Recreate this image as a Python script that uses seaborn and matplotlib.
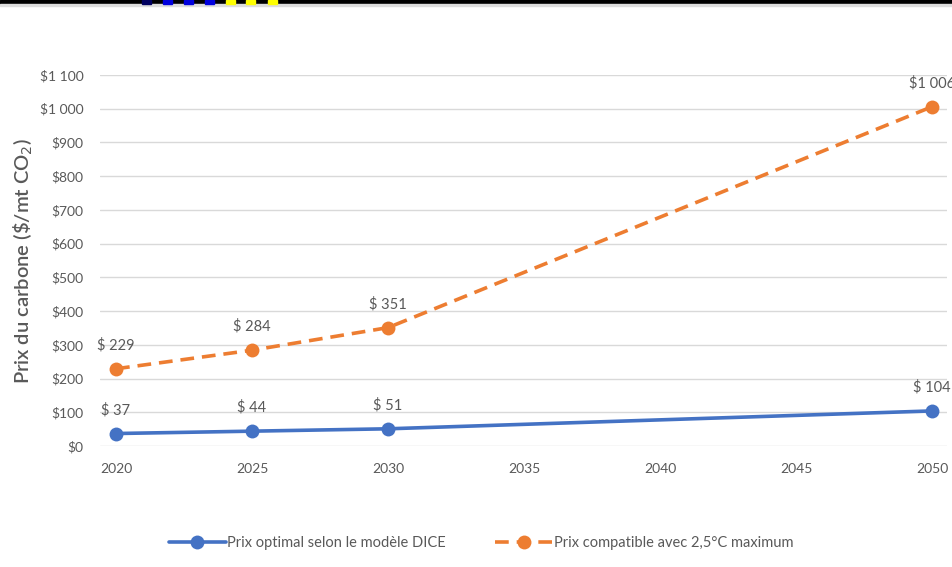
import numpy as np
import pandas as pd
import seaborn as sns
import matplotlib.pyplot as plt
from matplotlib.patches import Rectangle

sns.set_style("white")
plt.rcParams['font.family'] = ['Lato', 'DejaVu Sans']

# données
annees = [2020, 2025, 2030, 2050]
prix_dice = [37, 44, 51, 104]
prix_25c = [229, 284, 351, 1006]
etiq_dice = ["$ 37", "$ 44", "$ 51", "$ 104"]
etiq_25c = ["$ 229", "$ 284", "$ 351", "$1 006"]
xticks = [2020, 2025, 2030, 2035, 2040, 2045, 2050]
yticks = list(range(0, 1101, 100))
ylabels = ["$0", "$100", "$200", "$300", "$400", "$500", "$600", "$700",
           "$800", "$900", "$1 000", "$1 100"]
nom_dice = "Prix optimal selon le modèle DICE"
nom_25c = "Prix compatible avec 2,5°C maximum"

df = pd.DataFrame({"annee": annees * 2,
                   "prix": prix_dice + prix_25c,
                   "serie": [nom_dice] * 4 + [nom_25c] * 4})

gris = "#595959"
bleu = "#4472C4"
orange = "#ED7D31"

fig = plt.figure(figsize=(9.52, 5.67), dpi=100)
ax = fig.add_axes([100/952, 1 - 446/567, 847/952, 371/567])

sns.lineplot(data=df, x="annee", y="prix", hue="serie", style="serie",
             palette={nom_dice: bleu, nom_25c: orange},
             dashes={nom_dice: "", nom_25c: (3.8, 2.2)},
             markers={nom_dice: "o", nom_25c: "o"},
             markersize=10, markeredgewidth=0, linewidth=2.6, ax=ax,
             clip_on=False, zorder=3)

ax.set_xlim(2019.41, 2050.55)
ax.set_ylim(0, 1100)
ax.set_xticks(xticks)
ax.set_yticks(yticks)
ax.set_yticklabels(ylabels)
ax.tick_params(axis="both", length=0, colors=gris, labelsize=10)
ax.tick_params(axis="x", pad=12)
ax.tick_params(axis="y", pad=12)
ax.grid(axis="y", color="#D9D9D9", linewidth=1)
ax.set_axisbelow(True)
for s in ax.spines.values():
    s.set_visible(False)
ax.set_xlabel("")
ax.set_ylabel("Prix du carbone (\\$/mt CO$_2$)", fontsize=14.5, color=gris,
              fontweight="semibold", labelpad=3)

# étiquettes de données
for x, y, t in zip(annees, prix_dice, etiq_dice):
    ax.annotate(t, (x, y), xytext=(0, 14), textcoords="offset points",
                ha="center", fontsize=10.5, color=gris, annotation_clip=False)
for x, y, t in zip(annees, prix_25c, etiq_25c):
    ax.annotate(t, (x, y), xytext=(0, 14), textcoords="offset points",
                ha="center", fontsize=10.5, color=gris, annotation_clip=False)

h, l = ax.get_legend_handles_labels()
ax.legend(h, l, loc="center", bbox_to_anchor=(481/952, 1 - 543/567),
          bbox_transform=fig.transFigure, ncol=2, frameon=False,
          fontsize=10.5, labelcolor=gris, handlelength=3.9, columnspacing=3.4,
          handletextpad=0.1)

# bandeau noir en haut
fig.patches.append(Rectangle((0, 1 - 4/567), 1, 4/567, transform=fig.transFigure,
                             color="black", zorder=10))
fig.patches.append(Rectangle((0, 1 - 6/567), 1, 2/567, transform=fig.transFigure,
                             color="#DDDDDD", zorder=10))
carres = [(142, "#000060"), (163, "#0000DD"), (184, "#0000DD"), (205, "#0000DD"),
          (226, "#FFFF00"), (246, "#FFFF00"), (268, "#FFFF00")]
for cx, c in carres:
    fig.patches.append(Rectangle((cx/952, 1 - 4/567), 9/952, 4/567,
                                 transform=fig.transFigure, color=c, zorder=11))

plt.savefig("out.png", dpi=100)
